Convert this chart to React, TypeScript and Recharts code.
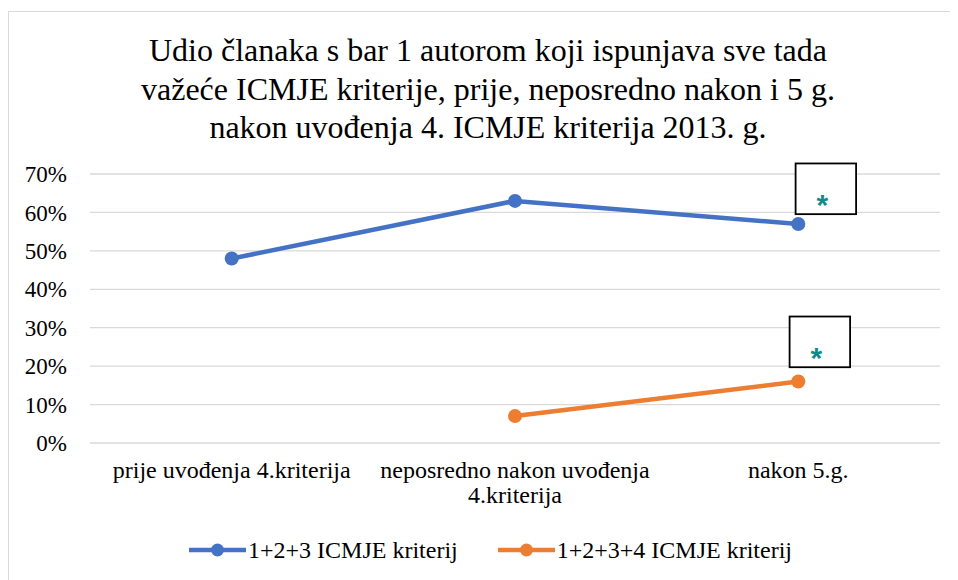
import { LineChart, Line, XAxis, YAxis, CartesianGrid, LabelList } from "recharts";

const titleLines = [
  "Udio članaka s bar 1 autorom koji ispunjava sve tada",
  "važeće ICMJE kriterije, prije, neposredno nakon i 5 g.",
  "nakon uvođenja 4. ICMJE kriterija 2013. g.",
];
const categories = ["prije uvođenja 4.kriterija", "neposredno nakon uvođenja 4.kriterija", "nakon 5.g."];
const crit123 = [0.48, 0.63, 0.57];
const crit1234 = [null, 0.07, 0.16];
const yTicks = [0, 0.1, 0.2, 0.3, 0.4, 0.5, 0.6, 0.7];

const series = [
  { key: "a", name: "1+2+3 ICMJE kriterij", color: "#4472C4", box: { dx: -2.7, dy: -60.5, sx: 24, sy: -24 } },
  { key: "b", name: "1+2+3+4 ICMJE kriterij", color: "#ED7D31", box: { dx: -8.7, dy: -65, sx: 18, sy: -28.6 } },
];

const data = categories.map((name, i) => ({ name, a: crit123[i], b: crit1234[i] }));

const serif =
  '"Times New Roman", Tinos, "Liberation Serif", "Noto Serif", "DejaVu Serif", "Nimbus Roman", FreeSerif, serif';
const tickFont = 24;

// greedy word wrap measured with a canvas
function wrapLines(text: string, maxWidth: number): string[] {
  const ctx = document.createElement("canvas").getContext("2d");
  if (!ctx) return [text];
  ctx.font = `${tickFont}px ${serif}`;
  const words = text.split(" ");
  const lines: string[] = [];
  let cur = "";
  for (const w of words) {
    const next = cur ? cur + " " + w : w;
    if (cur && ctx.measureText(next).width > maxWidth) {
      lines.push(cur);
      cur = w;
    } else cur = next;
  }
  if (cur) lines.push(cur);
  return lines;
}

function CategoryTick(props: any) {
  const { x, y, payload } = props;
  const lines = wrapLines(payload.value, 280);
  return (
    <text x={x} y={y + 35} textAnchor="middle" fill="#000" fontSize={tickFont} fontFamily={serif}>
      {lines.map((l, i) => (
        <tspan key={i} x={x} dy={i === 0 ? 0 : 25}>
          {l}
        </tspan>
      ))}
    </text>
  );
}

// boxed asterisk next to the last point of a series
function starBox(box: { dx: number; dy: number; sx: number; sy: number }) {
  return (props: any) => {
    const { x, y, index } = props;
    if (index !== categories.length - 1) return null;
    return (
      <g>
        <rect x={x + box.dx} y={y + box.dy} width={60.5} height={50.7} fill="#fff" stroke="#000" strokeWidth={1.8} />
        <text
          x={x + box.sx}
          y={y + box.sy + 15}
          textAnchor="middle"
          fill="#138A8A"
          fontWeight="bold"
          fontSize={30}
          fontFamily='"Liberation Sans", Arial, sans-serif'
        >
          *
        </text>
      </g>
    );
  };
}

export default function App() {
  return (
    <div
      style={{
        position: "relative",
        top: 3,
        width: 960,
        height: 580,
        border: "1px solid #d9d9d9",
        boxSizing: "border-box",
        fontFamily: serif,
      }}
    >
      <div
        style={{
          position: "absolute",
          top: 19,
          left: 0,
          width: 958,
          textAlign: "center",
          fontSize: 32,
          lineHeight: "38.5px",
          color: "#000",
        }}
      >
        {titleLines.map((l) => (
          <div key={l}>{l}</div>
        ))}
      </div>
      <LineChart width={950} height={566} data={data} margin={{ top: 162, right: 19, left: 21, bottom: 75 }}>
        <CartesianGrid vertical={false} stroke="#d9d9d9" strokeWidth={1.3} />
        <XAxis
          dataKey="name"
          axisLine={false}
          tickLine={false}
          tickSize={0}
          tickMargin={0}
          height={60}
          interval={0}
          padding={{ left: 141.7, right: 141.7 }}
          tick={<CategoryTick />}
        />
        <YAxis
          domain={[0, 0.7]}
          ticks={yTicks}
          tickFormatter={(v: number) => `${Math.round(v * 100)}%`}
          axisLine={false}
          tickLine={false}
          tickSize={0}
          tickMargin={23}
          width={60}
          tick={{ fill: "#000", fontSize: 23, fontFamily: serif }}
        />
        {series.map((s) => (
          <Line
            key={s.key}
            type="linear"
            dataKey={s.key}
            name={s.name}
            stroke={s.color}
            strokeWidth={4.5}
            dot={{ r: 7, fill: s.color, stroke: "none" }}
            activeDot={false}
            isAnimationActive={false}
          >
            <LabelList dataKey={s.key} content={starBox(s.box)} />
          </Line>
        ))}
      </LineChart>
      <div
        style={{
          position: "absolute",
          left: 180,
          top: 524,
          display: "flex",
          alignItems: "center",
          gap: 40,
          fontSize: 24,
          lineHeight: "28px",
          color: "#000",
        }}
      >
        {series.map((s) => (
          <div key={s.key} style={{ display: "flex", alignItems: "center", gap: 2 }}>
            <svg width={57} height={16}>
              <line x1={0} y1={8} x2={57} y2={8} stroke={s.color} strokeWidth={4.5} />
              <circle cx={28.5} cy={8} r={6.5} fill={s.color} />
            </svg>
            <span>{s.name}</span>
          </div>
        ))}
      </div>
    </div>
  );
}
